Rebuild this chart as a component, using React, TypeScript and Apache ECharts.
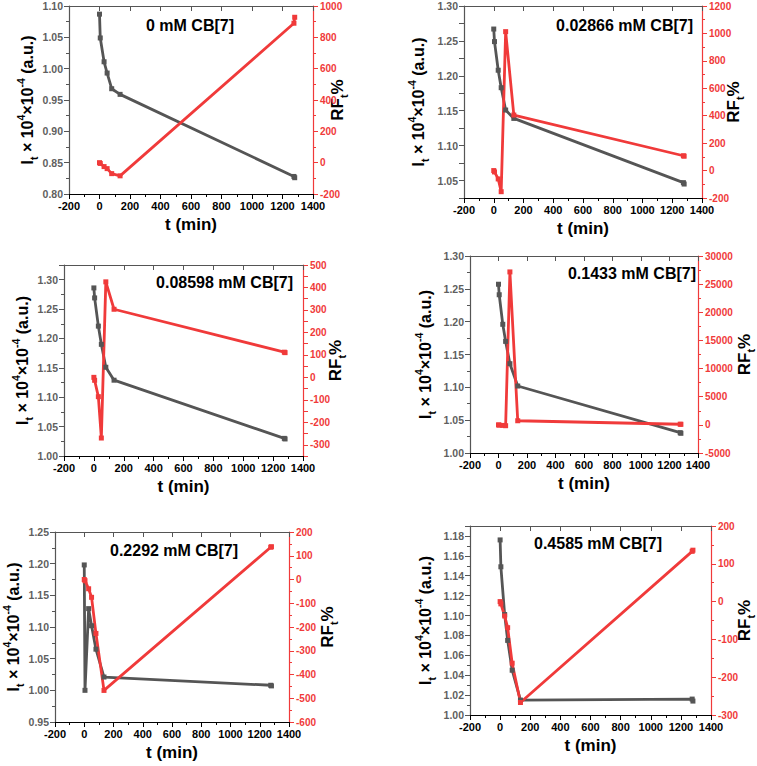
import { useEffect, useRef } from 'react'
import * as echarts from 'echarts'

// sampling times (min), shared by all six runs
const times = [0, 5, 30, 50, 80, 135, 1275, 1280]

const titles = [
  '0 mM CB[7]',
  '0.02866 mM CB[7]',
  '0.08598 mM CB[7]',
  '0.1433 mM CB[7]',
  '0.2292 mM CB[7]',
  '0.4585 mM CB[7]',
]

// I_t x 10^4 x 10^-4 (a.u.)
const intensity0 = [1.087, 1.049, 1.011, 0.993, 0.968, 0.959, 0.828, 0.826]
const intensity1 = [1.267, 1.249, 1.208, 1.183, 1.151, 1.139, 1.047, 1.045]
const intensity2 = [1.286, 1.269, 1.221, 1.19, 1.151, 1.129, 1.03, 1.029]
const intensity3 = [1.257, 1.241, 1.196, 1.17, 1.136, 1.102, 1.031, 1.03]
const intensity4 = [1.198, 1.0, 1.129, 1.102, 1.065, 1.021, 1.008, 1.007]
const intensity5 = [1.176, 1.149, 1.101, 1.075, 1.045, 1.015, 1.016, 1.014]

// RF_t %
const rf0 = [0, -5, -25, -38, -70, -84, 890, 928]
const rf1 = [0, -10, -61, -154, 1013, 405, 108, 105]
const rf2 = [0, -13, -86, -270, 425, 303, 112, 110]
const rf3 = [0, -50, -100, -150, 27170, 730, 110, 100]
const rf4 = [0, -5, -39, -75, -227, -467, 136, 138]
const rf5 = [0, -6, -38, -69, -163, -267, 133, 136]

const intensitySets = [intensity0, intensity1, intensity2, intensity3, intensity4, intensity5]
const rfSets = [rf0, rf1, rf2, rf3, rf4, rf5]

// [min, max, labelled step, decimals]
const xRange = [-200, 1400, 200, 0]
const leftRanges = [
  [0.8, 1.1, 0.05, 2],
  [1.025, 1.3, 0.05, 2],
  [1.0, 1.325, 0.05, 2],
  [1.0, 1.3, 0.05, 2],
  [0.95, 1.25, 0.05, 2],
  [1.0, 1.19, 0.02, 2],
]
const rightRanges = [
  [-200, 1000, 200, 0],
  [-200, 1200, 200, 0],
  [-350, 500, 100, 0],
  [-5000, 30000, 5000, 0],
  [-600, 200, 100, 0],
  [-300, 200, 100, 0],
]

const panels = [
  { grid: { left: 69, top: 6, width: 244, height: 188 }, tx: 190, ty: 25, align: 'center', lg: 30, rg: 12 },
  { grid: { left: 464, top: 6, width: 238, height: 192 }, tx: 693, ty: 25, align: 'right', lg: 34, rg: 19 },
  { grid: { left: 64, top: 265, width: 239, height: 191 }, tx: 293, ty: 282, align: 'right', lg: 30, rg: 20 },
  { grid: { left: 470, top: 256, width: 230, height: 197 }, tx: 696, ty: 273, align: 'right', lg: 33, rg: 34 },
  { grid: { left: 54, top: 532, width: 235, height: 190 }, tx: 174, ty: 550, align: 'center', lg: 30, rg: 26 },
  { grid: { left: 470, top: 526, width: 242, height: 189 }, tx: 598, ty: 543, align: 'center', lg: 33, rg: 21 },
]

const FONT = 'Liberation Sans, Arial, sans-serif'
const GRAY = '#555555'
const RED = '#f03a3a'

const isMultiple = (v: number, step: number) => Math.abs(v / step - Math.round(v / step)) < 1e-6

function scaleOpts(range: number[], color: string, fontSize: number) {
  const [min, max, step, digits] = range
  const aligned = isMultiple(min, step)
  return {
    type: 'value',
    min,
    max,
    interval: aligned ? step : step / 2,
    splitLine: { show: false },
    nameMoveOverlap: false,
    axisLine: { show: true, onZero: false, lineStyle: { color, width: 1.2 } },
    axisTick: { show: true, length: 5, lineStyle: { color } },
    minorTick: aligned
      ? { show: true, splitNumber: 2, length: 3, lineStyle: { color } }
      : { show: false },
    axisLabel: {
      fontSize,
      fontWeight: 'bold',
      fontFamily: FONT,
      margin: 6,
      formatter: (v: number) => (isMultiple(v, step) ? v.toFixed(digits) : ''),
    },
  }
}

const makeNameStyle = (size: number, small: number) => ({
  fontSize: size,
  fontWeight: 'bold',
  color: '#000',
  fontFamily: FONT,
  lineHeight: 24,
  rich: {
    sub: { fontSize: small, fontWeight: 'bold', color: '#000', fontFamily: FONT, lineHeight: 11, verticalAlign: 'bottom' },
    sup: { fontSize: small, fontWeight: 'bold', color: '#000', fontFamily: FONT, lineHeight: 11, verticalAlign: 'top' },
  },
})

export default function App() {
  const chartRef = useRef<HTMLDivElement>(null)

  useEffect(() => {
    if (!chartRef.current) return
    document.body.style.margin = '0'
    const chart = echarts.init(chartRef.current, null, { renderer: 'svg' })

    const xAxis: any[] = []
    const yAxis: any[] = []
    const series: any[] = []
    const graphic: any[] = []

    panels.forEach((p, i) => {
      const bottom = scaleOpts(xRange, '#000', 11)
      xAxis.push({
        ...bottom,
        gridIndex: i,
        position: 'bottom',
        name: 't (min)',
        nameLocation: 'middle',
        nameGap: 22,
        nameTextStyle: { fontSize: 17, fontWeight: 'bold', color: '#000', fontFamily: FONT },
        axisLabel: { ...bottom.axisLabel, color: '#000', margin: 6 },
      })
      const top = scaleOpts(xRange, GRAY, 11)
      xAxis.push({
        ...top,
        gridIndex: i,
        position: 'top',
        axisTick: { ...top.axisTick, inside: true },
        minorTick: { ...top.minorTick, show: false },
        axisLabel: { show: false },
      })

      const left = scaleOpts(leftRanges[i], GRAY, 10.5)
      yAxis.push({
        ...left,
        gridIndex: i,
        position: 'left',
        name: 'I{sub|t} × 10{sup|4}×10{sup|-4} (a.u.)',
        nameLocation: 'middle',
        nameRotate: 90,
        nameGap: p.lg,
        nameTextStyle: makeNameStyle(16, 10.5),
        axisLabel: { ...left.axisLabel, color: '#5f5f5f' },
      })
      const right = scaleOpts(rightRanges[i], RED, 10)
      yAxis.push({
        ...right,
        gridIndex: i,
        position: 'right',
        name: 'RF{sub|t}%',
        nameLocation: 'middle',
        nameRotate: 90,
        nameGap: p.rg,
        nameTextStyle: makeNameStyle(17, 11),
        axisLabel: { ...right.axisLabel, color: RED, margin: 7 },
      })

      series.push({
        type: 'line',
        xAxisIndex: i * 2,
        yAxisIndex: i * 2,
        data: times.map((t, k) => [t, intensitySets[i][k]]),
        symbol: 'rect',
        symbolSize: 5,
        itemStyle: { color: GRAY },
        lineStyle: { color: GRAY, width: 2.8 },
      })
      series.push({
        type: 'line',
        xAxisIndex: i * 2,
        yAxisIndex: i * 2 + 1,
        data: times.map((t, k) => [t, rfSets[i][k]]),
        symbol: 'rect',
        symbolSize: 5,
        itemStyle: { color: RED },
        lineStyle: { color: RED, width: 2.8 },
      })

      graphic.push({
        type: 'text',
        x: p.tx,
        y: p.ty,
        z: 10,
        style: {
          text: titles[i],
          fill: '#000',
          font: `bold 16px ${FONT}`,
          textAlign: p.align,
          textVerticalAlign: 'middle',
        },
      })
    })

    chart.setOption({
      animation: false,
      backgroundColor: '#fff',
      textStyle: { fontFamily: FONT },
      grid: panels.map((p) => p.grid),
      xAxis,
      yAxis,
      series,
      graphic,
    })

    return () => {
      chart.dispose()
    }
  }, [])

  return <div ref={chartRef} style={{ width: '757px', height: '766px' }} />
}
